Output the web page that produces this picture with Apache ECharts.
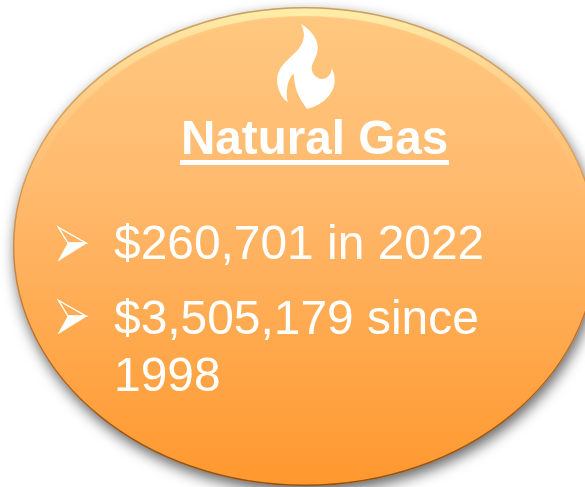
<!DOCTYPE html>
<html>
<head>
<meta charset="utf-8">
<style>
  html, body { margin: 0; padding: 0; background: #fff; }
  #main { width: 585px; height: 487px; }
</style>
<script src="https://cdn.jsdelivr.net/npm/echarts@6/dist/echarts.min.js"></script>
</head>
<body>
<div id="main"></div>
<script>
var titleText = 'Natural Gas'
var bulletLines = ['$260,701 in 2022', '$3,505,179 since', '1998']
var bulletMarks = [true, true, false]

var font = '"Liberation Sans", Arial, sans-serif'
var oval = { cx: 305, cy: 246.5, rx: 292, ry: 239.5 }

// flame is traced at 3x, scaled down when placed
var flamePath = 'M183 42 C215 60 240 95 232 125 C228 145 215 160 215 175 C215 195 235 208 248 207 ' +
  'C265 205 275 190 275 175 C283 190 285 205 284 215 C282 255 240 290 200 296 ' +
  'C185 270 165 255 161 190 C145 205 135 240 143 277 C120 260 108 225 112 200 ' +
  'C118 160 165 135 180 110 C195 90 195 65 183 42 Z'
echarts.graphic.registerShape('flame', echarts.graphic.extendPath(flamePath, {}))

function edgeGradient (stops) {
  return new echarts.graphic.LinearGradient(0, 0, 0, 1, stops)
}

var elements = []

// body of the oval with drop shadow
elements.push({
  type: 'ellipse',
  shape: oval,
  style: {
    fill: edgeGradient([
      { offset: 0, color: '#ffc880' },
      { offset: 0.35, color: '#ffbb70' },
      { offset: 1, color: '#ff982e' }
    ]),
    shadowBlur: 14,
    shadowOffsetY: 6,
    shadowOffsetX: 2,
    shadowColor: 'rgba(0,0,0,0.6)'
  }
})
// soft bevel, cream on top and dark below
elements.push({
  type: 'ellipse',
  shape: { cx: oval.cx, cy: oval.cy, rx: oval.rx - 4, ry: oval.ry - 5 },
  style: {
    fill: 'none',
    lineWidth: 8,
    opacity: 0.85,
    shadowBlur: 3,
    shadowColor: 'rgba(255,235,170,0.5)',
    stroke: edgeGradient([
      { offset: 0, color: '#fff3ac' },
      { offset: 0.06, color: 'rgba(255,235,170,0.75)' },
      { offset: 0.2, color: 'rgba(255,220,150,0.3)' },
      { offset: 0.4, color: 'rgba(255,190,110,0)' },
      { offset: 1, color: 'rgba(255,152,46,0)' }
    ])
  }
})
elements.push({
  type: 'ellipse',
  shape: { cx: oval.cx, cy: oval.cy, rx: oval.rx - 0.7, ry: oval.ry - 0.7 },
  style: {
    fill: 'none',
    lineWidth: 1.4,
    stroke: edgeGradient([
      { offset: 0, color: 'rgba(190,150,95,0.85)' },
      { offset: 0.3, color: 'rgba(190,135,75,0.55)' },
      { offset: 0.6, color: 'rgba(170,105,45,0.7)' },
      { offset: 0.85, color: 'rgba(150,85,25,0.95)' },
      { offset: 1, color: '#8f5214' }
    ])
  }
})

elements.push({
  type: 'flame',
  x: 240, y: 10, scaleX: 1 / 3, scaleY: 1 / 3,
  style: { fill: '#fff' }
})

elements.push({
  type: 'text',
  x: 181, y: 165,
  style: { text: titleText, fill: '#fff', font: 'bold 47.6px ' + font, verticalAlign: 'bottom' }
})
elements.push({
  type: 'rect',
  shape: { x: 180, y: 160, width: 269, height: 5 },
  style: { fill: '#fff' }
})

var lineTops = [222, 297, 354]
var bulletCenters = [243, 316]
bulletLines.forEach(function (line, i) {
  elements.push({
    type: 'text',
    x: 114, y: lineTops[i],
    style: { text: line, fill: '#fff', font: '47.9px ' + font }
  })
  if (bulletMarks[i]) {
    var y = bulletCenters[i]
    // arrowhead: lower half solid, upper half outlined
    elements.push({
      type: 'polygon',
      shape: { points: [[87, y], [68, y], [58, y + 18]] },
      style: { fill: '#fff', stroke: '#fff', lineWidth: 0.5 }
    })
    elements.push({
      type: 'polygon',
      shape: { points: [[86, y], [68, y], [58.5, y - 15.5]] },
      style: { fill: 'none', stroke: '#fff', lineWidth: 1.4 }
    })
  }
})

var myChart = echarts.init(document.getElementById('main'))
myChart.setOption({
  backgroundColor: '#fff',
  animation: false,
  graphic: { elements: elements }
})
</script>
</body>
</html>
